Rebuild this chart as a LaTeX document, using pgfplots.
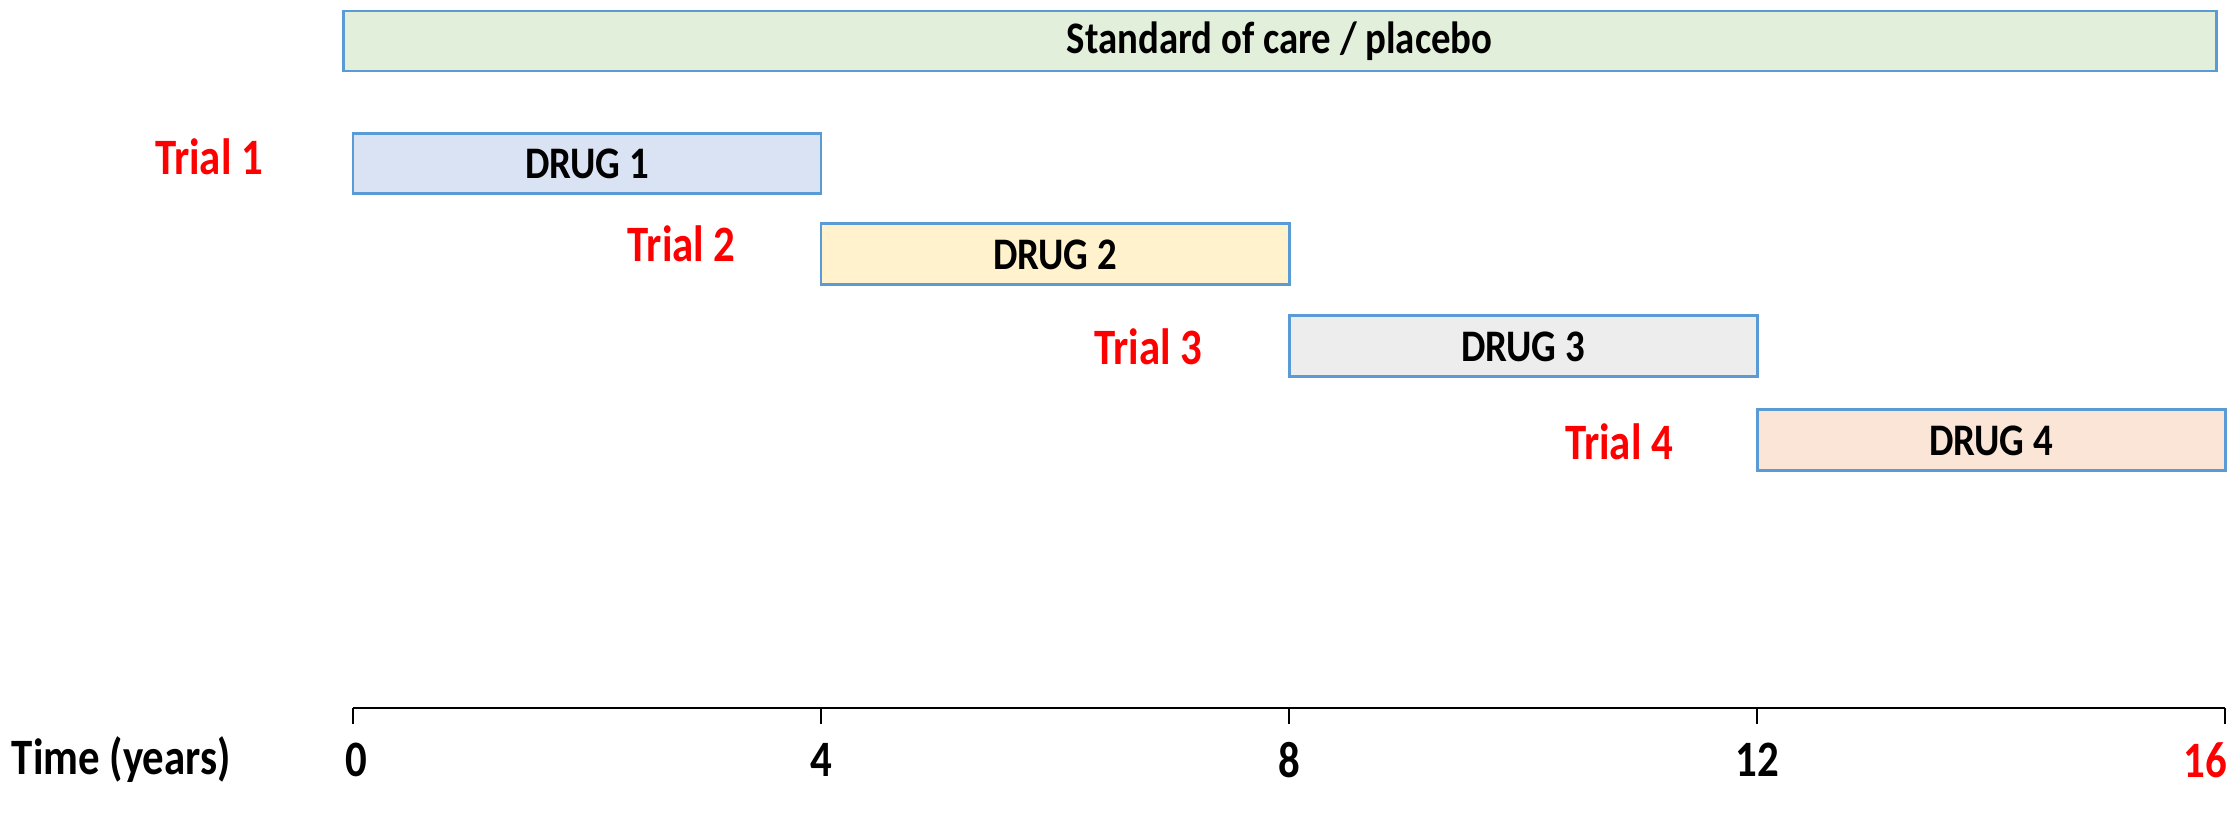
\documentclass[border=0pt]{standalone}
\usepackage{pgfplots}
\pgfplotsset{compat=1.18}
\usepackage{fontspec}
\setmainfont{Carlito}
\definecolor{bord}{HTML}{5B9BD5}
\definecolor{soc}{HTML}{E2EFDA}
\definecolor{d1}{HTML}{DAE3F3}
\definecolor{d2}{HTML}{FFF2CC}
\definecolor{d3}{HTML}{EDEDED}
\definecolor{d4}{HTML}{FBE5D6}
\definecolor{tred}{HTML}{FF0000}
\tikzset{
  drug/.style={font=\bfseries\fontsize{9.2}{11}\selectfont, xscale=0.86},
  big/.style={font=\bfseries\fontsize{10.4}{12}\selectfont, xscale=0.84},
}
\begin{document}
\begin{tikzpicture}
\begin{axis}[
  scale only axis, width=16cm, height=5.861cm,
  xmin=-3.017, xmax=16.068, ymin=0, ymax=818,
  axis lines=none, clip=false,
]
% bars: (start, end, bottom, top)
\addplot[fill=soc, draw=bord, line width=0.6pt] coordinates {(-0.08,747) (15.93,747) (15.93,807) (-0.08,807)} --cycle;
\addplot[fill=d1, draw=bord, line width=0.6pt] coordinates {(0,624) (4,624) (4,684) (0,684)} --cycle;
\addplot[fill=d2, draw=bord, line width=0.6pt] coordinates {(4,533) (8,533) (8,594) (4,594)} --cycle;
\addplot[fill=d3, draw=bord, line width=0.6pt] coordinates {(8,441) (12,441) (12,502) (8,502)} --cycle;
\addplot[fill=d4, draw=bord, line width=0.6pt] coordinates {(12,347) (16,347) (16,408) (12,408)} --cycle;
% time axis
\addplot[black, line width=0.5pt] coordinates {(0,110) (16,110)};
\addplot[black, line width=0.25pt] coordinates {(0,110) (0,94)};
\addplot[black, line width=0.25pt] coordinates {(4,110) (4,94)};
\addplot[black, line width=0.25pt] coordinates {(8,110) (8,94)};
\addplot[black, line width=0.25pt] coordinates {(12,110) (12,94)};
\addplot[black, line width=0.25pt] coordinates {(16,110) (16,94)};
% texts
\node[drug] at (axis cs:7.92,777) {Standard of care / placebo};
\node[drug] at (axis cs:2,654) {DRUG 1};
\node[drug] at (axis cs:6,563) {DRUG 2};
\node[drug] at (axis cs:10,471) {DRUG 3};
\node[drug] at (axis cs:14,377) {DRUG 4};
\node[big, text=tred] at (axis cs:-1.23,661) {Trial 1};
\node[big, text=tred] at (axis cs:2.81,574) {Trial 2};
\node[big, text=tred] at (axis cs:6.8,471) {Trial 3};
\node[big, text=tred] at (axis cs:10.82,376) {Trial 4};
\node[big] at (axis cs:-1.98,58) {Time (years)};
\node[big] at (axis cs:0.03,58) {0};
\node[big] at (axis cs:4,58) {4};
\node[big] at (axis cs:8,58) {8};
\node[big] at (axis cs:12,58) {12};
\node[big, text=tred] at (axis cs:15.83,58) {16};
\coordinate (bl) at (rel axis cs:0,0);
\coordinate (tr) at (rel axis cs:1,1);
\end{axis}
\pgfresetboundingbox
\path[use as bounding box] (bl) rectangle (tr);
\end{tikzpicture}
\end{document}
